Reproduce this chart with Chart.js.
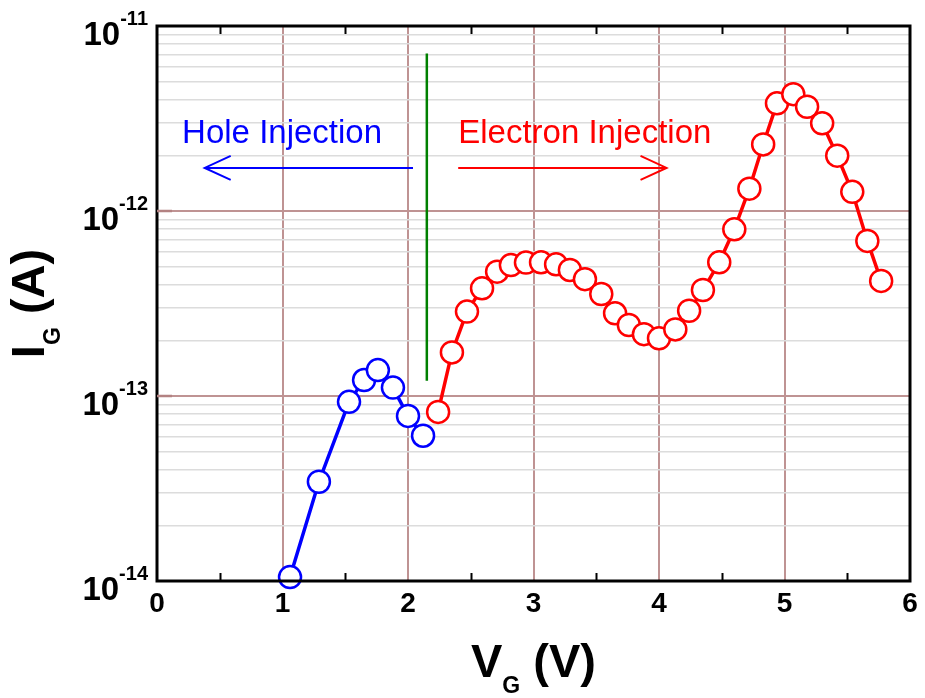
<!DOCTYPE html>
<html>
<head>
<meta charset="utf-8">
<script src="https://cdn.jsdelivr.net/npm/chart.js@4.4.1/dist/chart.umd.min.js"></script>
<style>
    body { margin: 0; background: #fff; }
    #wrap { width: 925px; height: 698px; }
</style>
</head>
<body>
<div id="wrap"><canvas id="igChart"></canvas></div>
<script>
// gate current vs gate voltage
const holeV = [1.06, 1.29, 1.53, 1.65, 1.76, 1.88, 2.00, 2.12];
const holeI = [1.05e-14, 3.44e-14, 9.3e-14, 1.22e-13, 1.38e-13, 1.11e-13, 7.8e-14, 6.1e-14];

const electronV = [2.24, 2.35, 2.47, 2.59, 2.71, 2.82, 2.94, 3.06, 3.18, 3.29,
                   3.41, 3.54, 3.65, 3.76, 3.88, 4.00, 4.13, 4.24, 4.35, 4.48,
                   4.60, 4.72, 4.83, 4.94, 5.07, 5.18, 5.30, 5.42, 5.54, 5.66, 5.77];
const electronI = [8.2e-14, 1.72e-13, 2.86e-13, 3.82e-13, 4.70e-13, 5.1e-13, 5.26e-13, 5.28e-13, 5.15e-13, 4.8e-13,
                   4.28e-13, 3.56e-13, 2.8e-13, 2.42e-13, 2.16e-13, 2.05e-13, 2.29e-13, 2.89e-13, 3.74e-13, 5.28e-13,
                   7.96e-13, 1.32e-12, 2.29e-12, 3.82e-12, 4.28e-12, 3.66e-12, 2.98e-12, 1.99e-12, 1.27e-12, 6.89e-13, 4.19e-13];

// divider between the two regimes
const dividerV = [2.15, 2.15];
const dividerI = [7.1e-12, 1.21e-13];

// arrows: [from V, to V] at a fixed current level
const arrowI = 1.71e-12;
const holeArrow = [2.04, 0.38];
const electronArrow = [2.40, 4.06];

// annotation text anchors (left edge V, baseline current)
const labelI = 2.33e-12;
const holeLabel = { text: "Hole Injection", v: 0.2 };
const electronLabel = { text: "Electron Injection", v: 2.40 };

// axes
const xTickLabels = ["0", "1", "2", "3", "4", "5", "6"];
const xHalfTicks = [0.5, 1.5, 2.5, 3.5, 4.5, 5.5];
const yDecades = [-14, -13, -12, -11];

const yTickValues = [];
for (let e = -14; e < -11; e++) {
    for (let m = 1; m <= 9; m++) yTickValues.push(m * Math.pow(10, e));
}
yTickValues.push(1e-11);

const BLUE = "#0000ff";
const RED = "#ff0000";
const GRID_MAJOR = "#bf9393";
const GRID_MINOR = "#dcdcdc";
const FONT = "'Liberation Sans', Arial, Helvetica, sans-serif";

const toPoints = (xs, ys) => xs.map((x, i) => ({ x: x, y: ys[i] }));

const isDecade = (v) => {
    const l = Math.log10(v);
    return Math.abs(l - Math.round(l)) < 1e-6;
};

const drawArrow = (ctx, x0, x1, y, color) => {
    const dir = x1 > x0 ? 1 : -1;
    ctx.save();
    ctx.strokeStyle = color;
    ctx.lineWidth = 2;
    ctx.beginPath();
    ctx.moveTo(x0, y);
    ctx.lineTo(x1, y);
    ctx.moveTo(x1 - dir * 26, y - 12);
    ctx.lineTo(x1, y);
    ctx.lineTo(x1 - dir * 26, y + 12);
    ctx.stroke();
    ctx.restore();
};

const decorations = {
    id: "decorations",
    afterDatasetsDraw(chart) {
        const ctx = chart.ctx;
        const xs = chart.scales.x;
        const ys = chart.scales.y;
        const a = chart.chartArea;

        // arrows and labels
        const ay = ys.getPixelForValue(arrowI);
        drawArrow(ctx, xs.getPixelForValue(holeArrow[0]), xs.getPixelForValue(holeArrow[1]), ay, BLUE);
        drawArrow(ctx, xs.getPixelForValue(electronArrow[0]), xs.getPixelForValue(electronArrow[1]), ay, RED);

        ctx.save();
        ctx.font = "33px " + FONT;
        ctx.textAlign = "left";
        ctx.textBaseline = "alphabetic";
        const ly = ys.getPixelForValue(labelI);
        ctx.fillStyle = BLUE;
        ctx.fillText(holeLabel.text, xs.getPixelForValue(holeLabel.v), ly);
        ctx.fillStyle = RED;
        ctx.fillText(electronLabel.text, xs.getPixelForValue(electronLabel.v), ly);
        ctx.restore();

        // frame
        ctx.save();
        ctx.strokeStyle = "#000";
        ctx.lineWidth = 3;
        ctx.strokeRect(a.left, a.top, a.right - a.left, a.bottom - a.top);

        // minor x ticks, bottom and top
        ctx.lineWidth = 2;
        ctx.beginPath();
        xHalfTicks.forEach(v => {
            const px = Math.round(xs.getPixelForValue(v)) + 0.5;
            ctx.moveTo(px, a.bottom);
            ctx.lineTo(px, a.bottom - 8);
            ctx.moveTo(px, a.top);
            ctx.lineTo(px, a.top + 8);
        });
        ctx.stroke();

        // major y ticks on the left
        ctx.strokeStyle = "#b38282";
        ctx.lineWidth = 2.5;
        ctx.beginPath();
        yDecades.slice(1, 3).forEach(e => {
            const py = ys.getPixelForValue(Math.pow(10, e));
            ctx.moveTo(a.left, py);
            ctx.lineTo(a.left + 15, py);
        });
        ctx.stroke();
        ctx.restore();

        // tick labels
        ctx.save();
        ctx.fillStyle = "#000";
        ctx.textBaseline = "alphabetic";
        ctx.font = "bold 28px " + FONT;
        ctx.textAlign = "center";
        xTickLabels.forEach(t => {
            ctx.fillText(t, xs.getPixelForValue(parseFloat(t)), a.bottom + 31);
        });

        yDecades.forEach(e => {
            const py = ys.getPixelForValue(Math.pow(10, e));
            const sup = String(e);
            const right = a.left - 9;
            ctx.textAlign = "right";
            ctx.font = "bold 20px " + FONT;
            const supW = ctx.measureText(sup).width;
            ctx.fillText(sup, right, py - 1);
            ctx.font = "bold 33px " + FONT;
            ctx.fillText("10", right - supW, py + 19);
        });

        // axis titles: big letter, subscript, unit
        const drawTitle = (main, sub, unit) => {
            ctx.font = "bold 47px " + FONT;
            const wMain = ctx.measureText(main).width;
            const wUnit = ctx.measureText(" " + unit).width;
            ctx.font = "bold 23px " + FONT;
            const wSub = ctx.measureText(sub).width;
            const total = wMain + wSub + wUnit;
            let x = -total / 2;
            ctx.textAlign = "left";
            ctx.font = "bold 47px " + FONT;
            ctx.fillText(main, x, 0);
            x += wMain;
            ctx.font = "bold 23px " + FONT;
            ctx.fillText(sub, x, 16);
            x += wSub;
            ctx.font = "bold 47px " + FONT;
            ctx.fillText(" " + unit, x, 0);
        };

        ctx.save();
        ctx.translate((a.left + a.right) / 2, 677);
        drawTitle("V", "G", "(V)");
        ctx.restore();

        ctx.save();
        ctx.translate(44, (a.top + a.bottom) / 2);
        ctx.rotate(-Math.PI / 2);
        drawTitle("I", "G", "(A)");
        ctx.restore();

        ctx.restore();
    }
};

const initChart = () => {
    const ctx = document.getElementById("igChart").getContext("2d");

    new Chart(ctx, {
        type: "scatter",
        data: {
            datasets: [
                {
                    label: "divider",
                    data: toPoints(dividerV, dividerI),
                    showLine: true,
                    borderColor: "#008000",
                    borderWidth: 2.5,
                    pointRadius: 0
                },
                {
                    label: "Hole",
                    data: toPoints(holeV, holeI),
                    showLine: true,
                    borderColor: BLUE,
                    borderWidth: 3.5,
                    pointRadius: 11,
                    pointBorderWidth: 2.5,
                    pointBackgroundColor: "#fff",
                    pointBorderColor: BLUE,
                    clip: false
                },
                {
                    label: "Electron",
                    data: toPoints(electronV, electronI),
                    showLine: true,
                    borderColor: RED,
                    borderWidth: 3.5,
                    pointRadius: 11,
                    pointBorderWidth: 2.5,
                    pointBackgroundColor: "#fff",
                    pointBorderColor: RED,
                    clip: false
                }
            ]
        },
        options: {
            responsive: true,
            maintainAspectRatio: false,
            animation: false,
            layout: {
                padding: { left: 157, right: 15, top: 26, bottom: 117 }
            },
            plugins: {
                legend: { display: false },
                tooltip: { enabled: false }
            },
            scales: {
                x: {
                    type: "linear",
                    min: 0,
                    max: 6,
                    ticks: { display: false, stepSize: 1 },
                    border: { display: false },
                    grid: {
                        drawTicks: false,
                        color: GRID_MAJOR,
                        lineWidth: 2
                    }
                },
                y: {
                    type: "logarithmic",
                    min: 1e-14,
                    max: 1e-11,
                    afterBuildTicks: (scale) => {
                        scale.ticks = yTickValues.map(v => ({ value: v }));
                    },
                    ticks: { display: false },
                    border: { display: false },
                    grid: {
                        drawTicks: false,
                        color: (c) => isDecade(c.tick.value) ? GRID_MAJOR : GRID_MINOR,
                        lineWidth: (c) => isDecade(c.tick.value) ? 2 : 1.5
                    }
                }
            }
        },
        plugins: [decorations]
    });
};

window.addEventListener("load", () => {
    initChart();
});
</script>
</body>
</html>
